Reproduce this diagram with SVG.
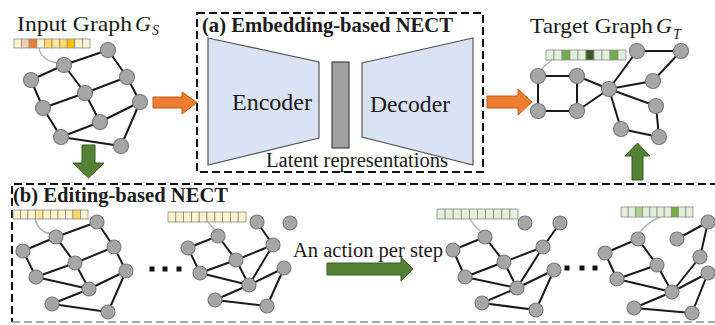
<svg xmlns="http://www.w3.org/2000/svg" width="715" height="325" viewBox="0 0 715 325">
<style>
.t{font-family:"Liberation Serif","Times New Roman",serif;fill:#1a1a1a}
.b{font-weight:bold}
.e{stroke:#1a1a1a;stroke-width:2;fill:none}
.n{fill:#a6a6a6;stroke:#7a7a7a;stroke-width:1.2}
.c{stroke:#8a8a8a;stroke-width:0.8}
.cur{stroke:#b0b0b0;stroke-width:1.4;fill:none}
.dash{fill:none;stroke:#111;stroke-width:2;stroke-dasharray:8 4}
.og{fill:#ed7d31;stroke:#c55a11;stroke-width:1}
.gr{fill:#548235;stroke:#3a5a25;stroke-width:1}
.y0{fill:#fff2cc}.y1{fill:#f8cbad}.y2{fill:#ed7d31}.y3{fill:#ffd966}.y4{fill:#ffe699}.y5{fill:#ffc000}
.g0{fill:#e2f0d9}.g1{fill:#70ad47}.g2{fill:#385723}.g3{fill:#a9d18e}
</style>

<!-- dashed boxes -->
<rect class="dash" x="197" y="13" width="286" height="159"/>
<path class="dash" d="M718 184H12V322"/>
<path class="dash" d="M12 322H718" style="stroke:#8c8c8c;stroke-width:1.5"/>

<!-- top box content -->
<g id="encoder">
<polygon points="208,38 319,62 319,138 208,165" fill="#dae3f3" stroke="#555" stroke-width="1.2"/>
<text class="t" x="232" y="110" font-size="24" textLength="80" lengthAdjust="spacingAndGlyphs">Encoder</text>
</g>
<g id="latent">
<rect x="332" y="62" width="17" height="86" fill="#a0a0a0" stroke="#444" stroke-width="1.2"/>
<text class="t" x="266" y="167" font-size="20" textLength="182" lengthAdjust="spacingAndGlyphs">Latent representations</text>
</g>
<g id="decoder">
<polygon points="362,63 473,38 473,165 362,137" fill="#dae3f3" stroke="#555" stroke-width="1.2"/>
<text class="t" x="370" y="112" font-size="24" textLength="80" lengthAdjust="spacingAndGlyphs">Decoder</text>
</g>
<text class="t b" x="202" y="32" font-size="20" textLength="251" lengthAdjust="spacingAndGlyphs">(a) Embedding-based NECT</text>
<text class="t b" x="13" y="202" font-size="20" textLength="215" lengthAdjust="spacingAndGlyphs">(b) Editing-based NECT</text>

<!-- titles -->
<text class="t" x="17" y="31" font-size="22"><tspan textLength="115" lengthAdjust="spacingAndGlyphs">Input Graph</tspan><tspan x="135" font-style="italic">G</tspan><tspan x="152" y="35" font-size="14" font-style="italic">S</tspan></text>
<text class="t" x="530" y="33" font-size="22"><tspan textLength="123" lengthAdjust="spacingAndGlyphs">Target Graph</tspan><tspan x="656" font-style="italic">G</tspan><tspan x="673" y="39" font-size="14" font-style="italic">T</tspan></text>
<text class="t" x="293" y="257" font-size="20.5" textLength="150" lengthAdjust="spacingAndGlyphs">An action per step</text>

<!-- arrows -->
<g id="arrows">
<polygon class="og" points="153,97 182,97 182,92 197,102.5 182,114 182,108 153,108"/>
<polygon class="og" points="487,96 518,96 518,89 532,102 518,115 518,108 487,108"/>
<polygon class="gr" points="82,145 95,145 95,163 104,163 88.5,178 73,163 82,163"/>
<polygon class="gr" points="632,180 643,180 643,156 650,156 637.5,143 625,156 632,156"/>
<polygon class="gr" points="327,263 401,263 401,257 413,269 401,281 401,275 327,275"/>
</g>

<!-- dots -->
<g fill="#111">
<rect x="149.5" y="266.5" width="5" height="5"/><rect x="162.5" y="266.5" width="5" height="5"/><rect x="176.5" y="266.5" width="5" height="5"/>
<rect x="564.5" y="265.5" width="5" height="5"/><rect x="579.5" y="265.5" width="5" height="5"/><rect x="592.5" y="265.5" width="5" height="5"/>
</g>

<!-- Input graph -->
<g id="input-graph">
<path class="cur" d="M39 48 Q41 60 57 63"/>
<g class="c">
<rect class="y0" x="14" y="39" width="7.6" height="9"/><rect class="y1" x="21.6" y="39" width="7.6" height="9"/><rect class="y2" x="29.2" y="39" width="7.6" height="9"/><rect class="y0" x="36.8" y="39" width="7.6" height="9"/><rect class="y3" x="44.4" y="39" width="7.6" height="9"/><rect class="y4" x="52" y="39" width="7.6" height="9"/><rect class="y3" x="59.6" y="39" width="7.6" height="9"/><rect class="y5" x="67.2" y="39" width="7.6" height="9"/><rect class="y0" x="74.8" y="39" width="7.6" height="9"/><rect class="y0" x="82.4" y="39" width="7.6" height="9"/>
</g>
<path class="e" d="M108 50L64 65M108 50L127 77M64 65L31 80M64 65L85 93M31 80L43 108M127 77L85 93M127 77L140 102M85 93L43 108M85 93L100 122M140 102L100 122M140 102L121 146M43 108L61 137M100 122L61 137M61 137L121 146"/>
<circle class="n" cx="108" cy="50" r="7.5"/><circle class="n" cx="64" cy="65" r="7.5"/><circle class="n" cx="31" cy="80" r="7.5"/><circle class="n" cx="127" cy="77" r="7.5"/><circle class="n" cx="85" cy="93" r="7.5"/><circle class="n" cx="140" cy="102" r="7.5"/><circle class="n" cx="43" cy="108" r="7.5"/><circle class="n" cx="100" cy="122" r="7.5"/><circle class="n" cx="61" cy="137" r="7.5"/><circle class="n" cx="121" cy="146" r="7.5"/>
</g>

<!-- Target graph -->
<g id="target-graph">
<path class="cur" d="M552 60 Q546 64 541 70"/>
<g class="c">
<rect class="g0" x="546" y="50" width="8" height="10"/><rect class="g0" x="554" y="50" width="8" height="10"/><rect class="g1" x="562" y="50" width="8" height="10"/><rect class="g0" x="570" y="50" width="8" height="10"/><rect class="g0" x="578" y="50" width="8" height="10"/><rect class="g2" x="586" y="50" width="8" height="10"/><rect class="g0" x="594" y="50" width="8" height="10"/><rect class="g0" x="602" y="50" width="8" height="10"/><rect class="g1" x="610" y="50" width="8" height="10"/><rect class="g0" x="618" y="50" width="8" height="10"/>
</g>
<path class="e" d="M538 76L577 76M538 76L538 111M577 76L577 111M538 111L577 111M577 76L609 89M577 111L609 89M609 89L637 51M637 51L681 51M681 51L653 81M609 89L653 81M609 89L656 106M609 89L621 129M656 106L659 137M621 129L659 137"/>
<circle class="n" cx="538" cy="76" r="7.5"/><circle class="n" cx="577" cy="76" r="7.5"/><circle class="n" cx="538" cy="111" r="7.5"/><circle class="n" cx="577" cy="111" r="7.5"/><circle class="n" cx="609" cy="89" r="7.5"/><circle class="n" cx="637" cy="51" r="7.5"/><circle class="n" cx="681" cy="51" r="7.5"/><circle class="n" cx="653" cy="81" r="7.5"/><circle class="n" cx="656" cy="106" r="7.5"/><circle class="n" cx="621" cy="129" r="7.5"/><circle class="n" cx="659" cy="137" r="7.5"/>
</g>

<!-- Editing graph 1 -->
<g id="edit-graph-1">
<path class="cur" d="M35 219 Q38 231 50 234"/>
<g class="c">
<rect class="y0" x="13" y="210" width="7.5" height="9"/><rect class="y0" x="20.5" y="210" width="7.5" height="9"/><rect class="y0" x="28" y="210" width="7.5" height="9"/><rect class="y4" x="35.5" y="210" width="7.5" height="9"/><rect class="y0" x="43" y="210" width="7.5" height="9"/><rect class="y0" x="50.5" y="210" width="7.5" height="9"/><rect class="y0" x="58" y="210" width="7.5" height="9"/><rect class="y0" x="65.5" y="210" width="7.5" height="9"/><rect class="y3" x="73" y="210" width="7.5" height="9"/><rect class="y0" x="80.5" y="210" width="7.5" height="9"/>
</g>
<path class="e" d="M97 222L56 237M97 222L114 247M56 237L23 251M56 237L75 263M23 251L36 277M114 247L75 263M114 247L126 271M75 263L36 277M75 263L89 289M36 277L89 289M89 289L126 271M89 289L52 304M52 304L108 312M126 271L108 312"/>
<circle class="n" cx="97" cy="222" r="7"/><circle class="n" cx="56" cy="237" r="7"/><circle class="n" cx="23" cy="251" r="7"/><circle class="n" cx="114" cy="247" r="7"/><circle class="n" cx="75" cy="263" r="7"/><circle class="n" cx="126" cy="271" r="7"/><circle class="n" cx="36" cy="277" r="7"/><circle class="n" cx="89" cy="289" r="7"/><circle class="n" cx="52" cy="304" r="7"/><circle class="n" cx="108" cy="312" r="7"/>
</g>

<!-- Editing graph 2 -->
<g id="edit-graph-2">
<path class="cur" d="M208 222 Q212 226 215 230"/>
<g class="c">
<rect class="y0" x="168" y="212" width="7.8" height="10"/><rect class="y0" x="175.8" y="212" width="7.8" height="10"/><rect class="y0" x="183.6" y="212" width="7.8" height="10"/><rect class="y0" x="191.4" y="212" width="7.8" height="10"/><rect class="y0" x="199.2" y="212" width="7.8" height="10"/><rect class="y0" x="207" y="212" width="7.8" height="10"/><rect class="y0" x="214.8" y="212" width="7.8" height="10"/><rect class="y0" x="222.6" y="212" width="7.8" height="10"/><rect class="y0" x="230.4" y="212" width="7.8" height="10"/><rect class="y0" x="238.2" y="212" width="7.8" height="10"/>
</g>
<path class="e" d="M257 222L273 245M218 236L188 248M218 236L236 260M188 248L200 273M273 245L236 260M273 245L249 285M236 260L200 273M236 260L249 285M200 273L249 285M249 285L284 268M249 285L215 300M215 300L267 306M284 268L267 306"/>
<circle class="n" cx="257" cy="222" r="7"/><circle class="n" cx="290" cy="223" r="7"/><circle class="n" cx="218" cy="236" r="7"/><circle class="n" cx="188" cy="248" r="7"/><circle class="n" cx="273" cy="245" r="7"/><circle class="n" cx="236" cy="260" r="7"/><circle class="n" cx="284" cy="268" r="7"/><circle class="n" cx="200" cy="273" r="7"/><circle class="n" cx="249" cy="285" r="7"/><circle class="n" cx="215" cy="300" r="7"/><circle class="n" cx="267" cy="306" r="7"/>
</g>

<!-- Editing graph 3 -->
<g id="edit-graph-3">
<path class="cur" d="M470 219 Q474 226 480 231"/>
<g class="c">
<rect class="g0" x="437" y="209" width="8.1" height="10"/><rect class="g0" x="445.1" y="209" width="8.1" height="10"/><rect class="g0" x="453.2" y="209" width="8.1" height="10"/><rect class="g0" x="461.3" y="209" width="8.1" height="10"/><rect class="g0" x="469.4" y="209" width="8.1" height="10"/><rect class="g0" x="477.5" y="209" width="8.1" height="10"/><rect class="g0" x="485.6" y="209" width="8.1" height="10"/><rect class="g0" x="493.7" y="209" width="8.1" height="10"/><rect class="g0" x="501.8" y="209" width="8.1" height="10"/><rect class="g0" x="509.9" y="209" width="8.1" height="10"/>
</g>
<path class="e" d="M560 223L543 247M485 237L453 250M485 237L504 262M453 250L465 277M543 247L504 262M543 247L517 288M504 262L465 277M504 262L517 288M465 277L517 288M517 288L554 270M517 288L482 303M482 303L536 310M554 270L536 310"/>
<circle class="n" cx="525" cy="223" r="7"/><circle class="n" cx="560" cy="223" r="7"/><circle class="n" cx="485" cy="237" r="7"/><circle class="n" cx="453" cy="250" r="7"/><circle class="n" cx="543" cy="247" r="7"/><circle class="n" cx="504" cy="262" r="7"/><circle class="n" cx="554" cy="270" r="7"/><circle class="n" cx="465" cy="277" r="7"/><circle class="n" cx="517" cy="288" r="7"/><circle class="n" cx="482" cy="303" r="7"/><circle class="n" cx="536" cy="310" r="7"/>
</g>

<!-- Editing graph 4 -->
<g id="edit-graph-4">
<path class="cur" d="M660 217 Q648 222 640 232"/>
<g class="c">
<rect class="g0" x="621" y="207" width="7.2" height="10"/><rect class="g0" x="628.2" y="207" width="7.2" height="10"/><rect class="g3" x="635.4" y="207" width="7.2" height="10"/><rect class="g0" x="642.6" y="207" width="7.2" height="10"/><rect class="g0" x="649.8" y="207" width="7.2" height="10"/><rect class="g0" x="657" y="207" width="7.2" height="10"/><rect class="g0" x="664.2" y="207" width="7.2" height="10"/><rect class="g1" x="671.4" y="207" width="7.2" height="10"/><rect class="g0" x="678.6" y="207" width="7.2" height="10"/><rect class="g0" x="685.8" y="207" width="7.2" height="10"/>
</g>
<path class="e" d="M638 239L605 253M638 239L657 265M677 239L708 222M708 222L700 257M605 253L617 279M700 257L672 292M657 265L617 279M657 265L672 292M617 279L672 292M672 292L708 273M672 292L634 308M634 308L692 313M708 273L692 313"/>
<circle class="n" cx="638" cy="239" r="7"/><circle class="n" cx="677" cy="239" r="7"/><circle class="n" cx="708" cy="222" r="7"/><circle class="n" cx="605" cy="253" r="7"/><circle class="n" cx="700" cy="257" r="7"/><circle class="n" cx="657" cy="265" r="7"/><circle class="n" cx="708" cy="273" r="7"/><circle class="n" cx="617" cy="279" r="7"/><circle class="n" cx="672" cy="292" r="7"/><circle class="n" cx="634" cy="308" r="7"/><circle class="n" cx="692" cy="313" r="7"/>
</g>
</svg>
